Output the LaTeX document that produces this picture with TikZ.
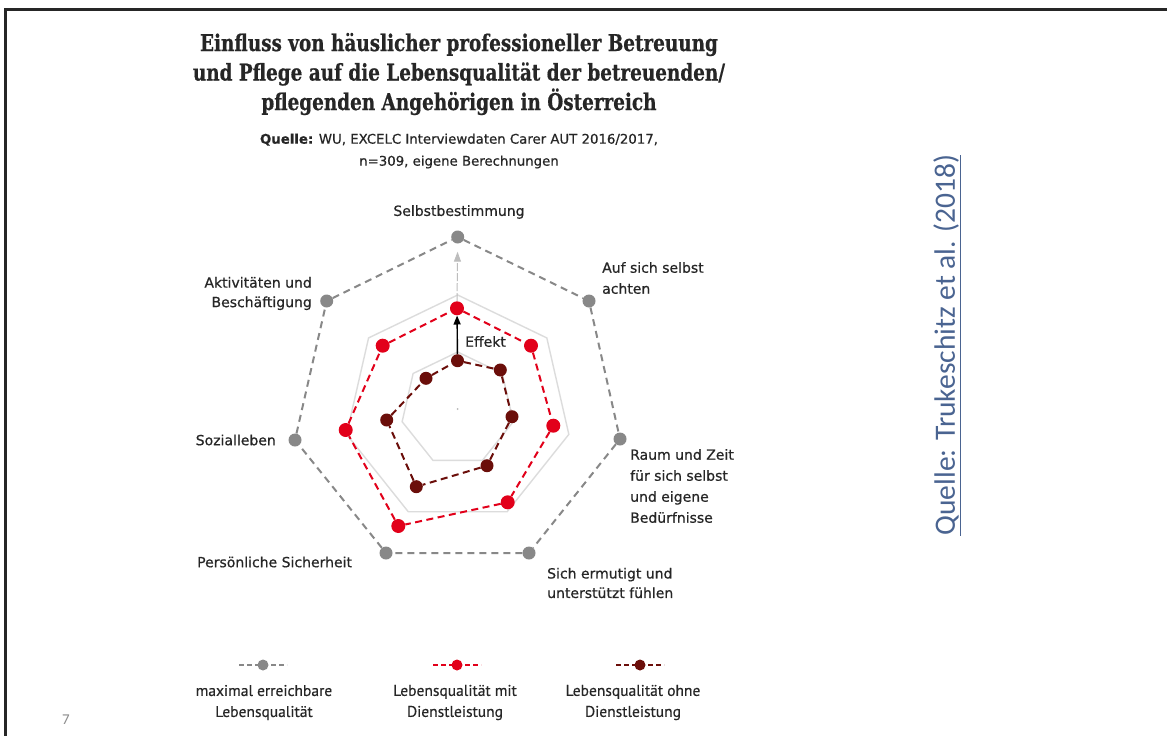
\documentclass[tikz,border=0pt]{standalone}
\usepackage{fontspec}
\setmainfont{DejaVu Sans}
\newfontfamily\lblfont[FakeBold=0.6]{DejaVu Sans}
\newfontfamily\titlefont[FakeStretch=0.8,FakeBold=0.6]{DejaVu Serif}
\newfontfamily\legfont[FakeBold=0.4]{PT Sans}
\newfontfamily\srcfont{Carlito}
\usetikzlibrary{arrows.meta}
\definecolor{maxgray}{HTML}{888888}
\definecolor{withred}{HTML}{E2001A}
\definecolor{nored}{HTML}{6B0E0A}
\definecolor{gridgray}{HTML}{DCDCDC}
\definecolor{arrgray}{HTML}{BDBDBD}
\definecolor{txt}{HTML}{262626}
\definecolor{srcblue}{HTML}{4A6491}
\definecolor{pagegray}{HTML}{8C8C8C}
\tikzset{
  lbl/.style={font=\lblfont\fontsize{14}{21}\selectfont, text=txt, inner sep=0pt},
  leg/.style={font=\legfont\fontsize{15.5}{21}\selectfont, text=txt, inner sep=0pt, align=center},
  maxline/.style={maxgray, line width=2pt, dash pattern=on 7pt off 5pt},
  withline/.style={withred, line width=2pt, dash pattern=on 7pt off 4.5pt},
  noline/.style={nored, line width=2pt, dash pattern=on 7pt off 4.5pt},
  maxdot/.style={circle, fill=maxgray, minimum size=13pt, inner sep=0pt},
  withdot/.style={circle, fill=withred, minimum size=14pt, inner sep=0pt},
  nodot/.style={circle, fill=nored, minimum size=13pt, inner sep=0pt},
  gridline/.style={gridgray, line width=1.4pt},
}
\begin{document}
\begin{tikzpicture}[x=1pt,y=-1pt]
\useasboundingbox (0,0) rectangle (1167,736);
\fill[white] (0,0) rectangle (1167,736);
% frame
\draw[line width=3pt, black!85] (5,736) -- (5,9) -- (1167,9);

% title
\node[font=\titlefont\bfseries\fontsize{23}{29.5}\selectfont, text=txt, align=center, inner sep=0pt] (title) at (459,74)
  {Einfluss von häuslicher professioneller Betreuung\\und Pflege auf die Lebensqualität der betreuenden/\\pflegenden Angehörigen in Österreich};
\node[font=\lblfont\fontsize{13.3}{22}\selectfont, text=txt, align=center, inner sep=0pt] (sub) at (459,151)
  {\textbf{Quelle:} WU, EXCELC Interviewdaten Carer AUT 2016/2017,\\n=309, eigene Berechnungen};

% grid heptagons
\foreach \r in {57,114}{
  \draw[gridline] ({457.7+\r*cos(90)},{409-\r*sin(90)})
    \foreach \k in {1,...,6}{ -- ({457.7+\r*cos(90-\k*360/7)},{409-\r*sin(90-\k*360/7)}) } -- cycle;
}
\fill[maxgray!60] (457.7,409) circle (1pt);

% max points
\node[maxdot] (g1) at (457.7,237) {};
\node[maxdot] (g2) at (589,301) {};
\node[maxdot] (g3) at (620,439) {};
\node[maxdot] (g4) at (529,553) {};
\node[maxdot] (g5) at (386,553) {};
\node[maxdot] (g6) at (295,440) {};
\node[maxdot] (g7) at (326.7,301) {};
% with service
\node[withdot] (r1) at (457,308.3) {};
\node[withdot] (r2) at (531,345.7) {};
\node[withdot] (r3) at (553.3,425.7) {};
\node[withdot] (r4) at (507.7,502.3) {};
\node[withdot] (r5) at (398.3,526) {};
\node[withdot] (r6) at (345.7,430) {};
\node[withdot] (r7) at (382.7,345.7) {};
% without service
\node[nodot] (d1) at (457.5,360.7) {};
\node[nodot] (d2) at (500.3,370) {};
\node[nodot] (d3) at (512,416.7) {};
\node[nodot] (d4) at (487,465.7) {};
\node[nodot] (d5) at (416.3,486.7) {};
\node[nodot] (d6) at (386.7,420) {};
\node[nodot] (d7) at (426,378.3) {};

\draw[maxline] (g1)--(g2) (g2)--(g3) (g3)--(g4) (g4)--(g5) (g5)--(g6) (g6)--(g7) (g7)--(g1);
\draw[withline] (r1)--(r2) (r2)--(r3) (r3)--(r4) (r4)--(r5) (r5)--(r6) (r6)--(r7) (r7)--(r1);
\draw[noline] (d1)--(d2) (d2)--(d3) (d3)--(d4) (d4)--(d5) (d5)--(d6) (d6)--(d7) (d7)--(d1);

% arrows
\draw[arrgray, line width=1pt, dash pattern=on 8pt off 2pt, shorten >=8pt,
  -{Triangle[length=10pt,width=7pt]}] (r1) -- (g1);
\draw[black, line width=1.4pt, -{Triangle[length=9pt,width=7pt]}] (d1) -- (r1);
\node[lbl, anchor=west] (eff) at (465,341.5) {Effekt};

% axis labels
\node[lbl] (l1) at (459,212) {Selbstbestimmung};
\node[lbl, anchor=west, align=left] (l2) at (602,278) {Auf sich selbst\\achten};
\node[lbl, anchor=west, align=left] (l3) at (630,486) {Raum und Zeit\\für sich selbst\\und eigene\\Bedürfnisse};
\node[lbl, anchor=west, align=left, font=\lblfont\fontsize{14}{19.5}\selectfont] (l4) at (547,583) {Sich ermutigt und\\unterstützt fühlen};
\node[lbl, anchor=west] (l5) at (197,562) {Persönliche Sicherheit};
\node[lbl, anchor=east] (l6) at (276,440) {Sozialleben};
\node[lbl, anchor=east, align=right, font=\lblfont\fontsize{14}{19.5}\selectfont] (l7) at (312,293.5) {Aktivitäten und\\Beschäftigung};

% legend
\foreach \n/\x/\st/\dt in {a/263/maxgray/maxdot, b/457/withred/withdot, c/640/nored/nodot}{
  \coordinate (\n L) at (\x-24,665);
  \coordinate (\n R) at (\x+24,665);
  \draw[\st, line width=2pt, dash pattern=on 5pt off 3pt] (\n L) -- (\n R);
  \node[\dt, minimum size=11pt] (\n D) at (\x,665) {};
}
\node[leg] (t1) at (264,702.5) {maximal erreichbare\\Lebensqualität};
\node[leg] (t2) at (455,702.5) {Lebensqualität mit\\Dienstleistung};
\node[leg] (t3) at (633,702.5) {Lebensqualität ohne\\Dienstleistung};

% source
\node[font=\srcfont\fontsize{29.5}{29.5}\selectfont, text=srcblue, rotate=90, inner sep=0pt] (src) at (947,345)
  {\underline{Quelle: Trukeschitz et al. (2018)}};
% page number
\node[font=\srcfont\fontsize{15}{15}\selectfont, text=pagegray, inner sep=0pt] (pg) at (66,720) {7};
\end{tikzpicture}
\end{document}
